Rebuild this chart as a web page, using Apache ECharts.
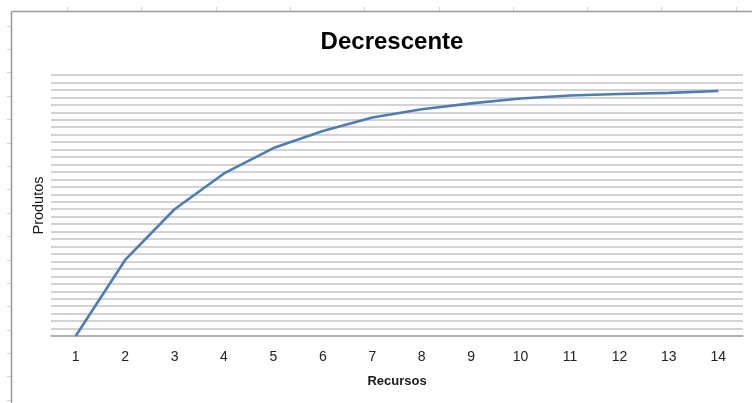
<!DOCTYPE html>
<html>
<head>
<meta charset="utf-8">
<title>Decrescente</title>
<script src="https://cdn.jsdelivr.net/npm/echarts@6/dist/echarts.min.js"></script>
<style>
  html, body { margin: 0; padding: 0; background: #ffffff; }
  #chart { width: 752px; height: 403px; }
</style>
</head>
<body>
<div id="chart"></div>
<script>
// Recursos (x) and Produtos (y)
const recursos = ['1', '2', '3', '4', '5', '6', '7', '8', '9', '10', '11', '12', '13', '14'];
const produtos = [0, 10.2, 17.0, 21.8, 25.2, 27.5, 29.3, 30.4, 31.2, 31.85, 32.25, 32.45, 32.6, 32.85];
const yMin = 0;
const yMax = 35;
const yStep = 1;

const chart = echarts.init(document.getElementById('chart'), null, { renderer: 'canvas' });

// Worksheet frame behind the chart: outer border plus faint cell marks
const frame = [
  { type: 'line', shape: { x1: 11.5, y1: 11.5, x2: 752, y2: 11.5 }, style: { stroke: '#9a9a9a', lineWidth: 1.5 }, z: 10 },
  { type: 'line', shape: { x1: 11.5, y1: 11.5, x2: 11.5, y2: 403 }, style: { stroke: '#9a9a9a', lineWidth: 1.5 }, z: 10 }
];
for (let x = 67; x < 752; x += 74.3) {
  frame.push({ type: 'line', shape: { x1: Math.round(x) + 0.5, y1: 7, x2: Math.round(x) + 0.5, y2: 11 }, style: { stroke: '#d4d4d4', lineWidth: 1 } });
}
for (let y = 25.5; y < 403; y += 23.4) {
  frame.push({ type: 'line', shape: { x1: 7, y1: Math.round(y) + 0.5, x2: 11, y2: Math.round(y) + 0.5 }, style: { stroke: '#d4d4d4', lineWidth: 1 } });
}

chart.setOption({
  animation: false,
  backgroundColor: '#ffffff',
  title: {
    text: 'Decrescente',
    left: 387,
    textAlign: 'center',
    top: 25,
    textStyle: {
      fontFamily: 'Liberation Sans, Arial, sans-serif',
      fontSize: 24,
      fontWeight: 'bold',
      color: '#000000'
    }
  },
  graphic: frame,
  grid: { left: 51, right: 9, top: 75, bottom: 67, containLabel: false },
  xAxis: {
    type: 'category',
    data: recursos,
    boundaryGap: true,
    name: 'Recursos',
    nameLocation: 'middle',
    nameGap: 39,
    nameTextStyle: {
      fontFamily: 'Liberation Sans, Arial, sans-serif',
      fontSize: 13,
      fontWeight: 'bold',
      color: '#1a1a1a'
    },
    axisLine: { show: true, lineStyle: { color: '#a6a6a6', width: 1.5 } },
    axisTick: { show: false },
    axisLabel: {
      margin: 14,
      fontFamily: 'Liberation Sans, Arial, sans-serif',
      fontSize: 14,
      color: '#222222'
    },
    splitLine: { show: false }
  },
  yAxis: {
    type: 'value',
    min: yMin,
    max: yMax,
    interval: yStep,
    name: 'Produtos',
    nameLocation: 'middle',
    nameRotate: 90,
    nameGap: 5,
    nameTextStyle: {
      fontFamily: 'Liberation Sans, Arial, sans-serif',
      fontSize: 14.5,
      color: '#1a1a1a'
    },
    axisLine: { show: false },
    axisTick: { show: false },
    axisLabel: { show: false },
    splitLine: { show: true, lineStyle: { color: '#c4c4c4', width: 1.6 } }
  },
  series: [{
    type: 'line',
    data: produtos,
    showSymbol: false,
    symbol: 'none',
    smooth: false,
    lineStyle: { color: '#4a7ebb', width: 2.6 },
    z: 5
  }]
});
</script>
</body>
</html>
